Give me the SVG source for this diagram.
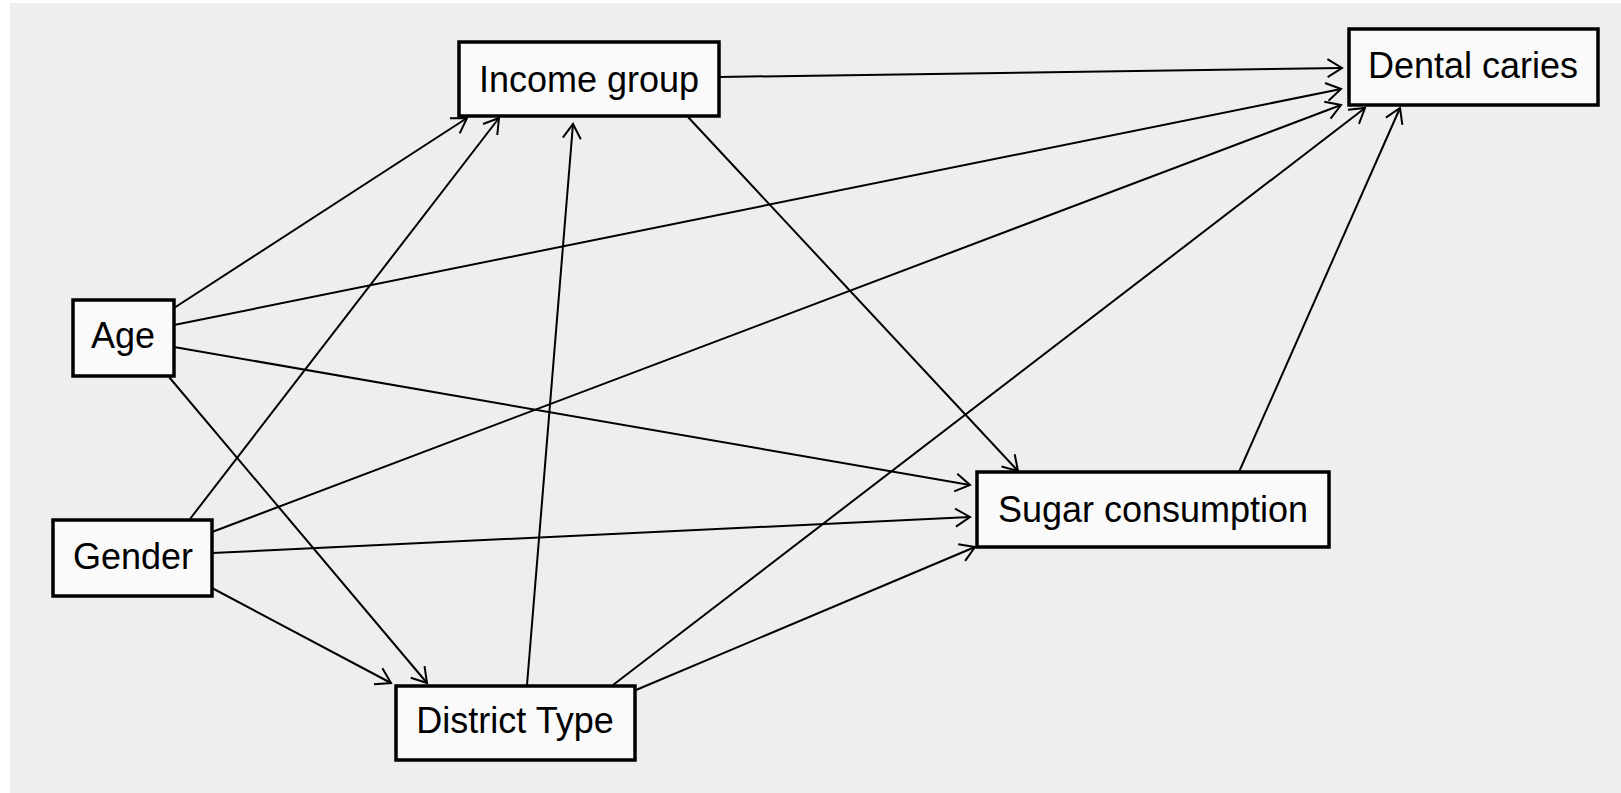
<svg xmlns="http://www.w3.org/2000/svg" width="1621" height="793" viewBox="0 0 1621 793">
<style>
.box{fill:#fafafa;stroke:#000;stroke-width:3.5}
.lbl{font-family:"Liberation Sans",Arial,Helvetica,sans-serif;font-size:36px;fill:#000;text-anchor:middle}
.edge{stroke:#000;stroke-width:2;fill:none;marker-end:url(#arr)}
</style>
<defs>
<marker id="arr" markerWidth="40" markerHeight="40" refX="20" refY="20" orient="auto" markerUnits="userSpaceOnUse" overflow="visible">
<path d="M5.5,11 L20,20 L5.5,29" fill="none" stroke="#000" stroke-width="2"/>
</marker>
</defs>
<rect x="0" y="0" width="1621" height="793" fill="#ffffff"/>
<rect x="10" y="3" width="1611" height="790" fill="#eeeeee"/>
<g id="connectors">
<line class="edge" x1="719" y1="77" x2="1342" y2="68"/>
<line class="edge" x1="174" y1="325" x2="1341" y2="89"/>
<line class="edge" x1="212" y1="532" x2="1341" y2="105"/>
<line class="edge" x1="613" y1="685" x2="1365" y2="108"/>
<line class="edge" x1="1239" y1="472" x2="1400" y2="108"/>
<line class="edge" x1="174" y1="308" x2="467" y2="118"/>
<line class="edge" x1="190" y1="519" x2="499" y2="118"/>
<line class="edge" x1="527" y1="685" x2="573" y2="124"/>
<line class="edge" x1="688" y1="117" x2="1018" y2="471"/>
<line class="edge" x1="174" y1="347" x2="970" y2="485"/>
<line class="edge" x1="212" y1="553" x2="970" y2="517"/>
<line class="edge" x1="636" y1="690" x2="975" y2="547"/>
<line class="edge" x1="169" y1="377" x2="427" y2="683"/>
<line class="edge" x1="212" y1="588" x2="391" y2="683"/>
</g>
<g id="income">
<rect class="box" x="459" y="42" width="260" height="74"/>
<text class="lbl" x="589" y="92">Income group</text>
</g>
<g id="dental">
<rect class="box" x="1349" y="29" width="249" height="76"/>
<text class="lbl" x="1473" y="78">Dental caries</text>
</g>
<g id="age">
<rect class="box" x="73" y="300" width="101" height="76"/>
<text class="lbl" x="123" y="348">Age</text>
</g>
<g id="gender">
<rect class="box" x="53" y="520" width="159" height="76"/>
<text class="lbl" x="133" y="569">Gender</text>
</g>
<g id="district">
<rect class="box" x="396" y="686" width="239" height="74"/>
<text class="lbl" x="515" y="733">District Type</text>
</g>
<g id="sugar">
<rect class="box" x="977" y="472" width="352" height="75"/>
<text class="lbl" x="1153" y="522">Sugar consumption</text>
</g>
</svg>
